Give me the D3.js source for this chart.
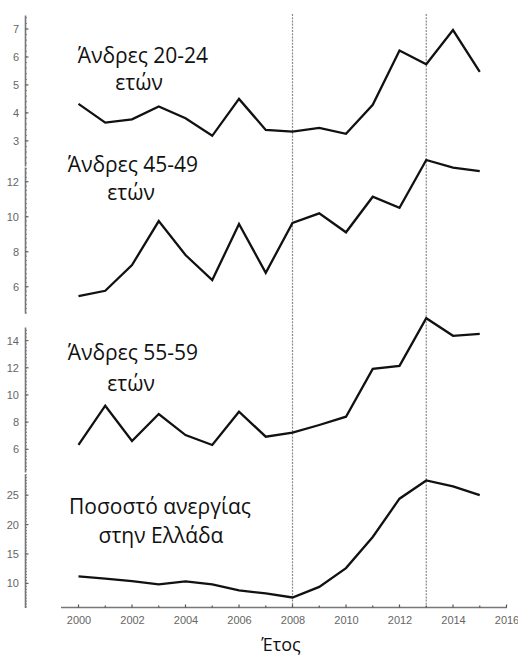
<!DOCTYPE html>
<html>
<head>
<meta charset="utf-8">
<script src="https://cdn.jsdelivr.net/npm/d3@7"></script>
<style>
  html, body { margin: 0; padding: 0; background: #fff; }
  svg { display: block; }
  .tick text { font-family: "Liberation Sans", Arial, sans-serif; font-size: 11px; fill: #666; }
  .panel-label { font-family: "Open Sans", sans-serif; font-size: 21px; fill: #111; }
</style>
</head>
<body>
<svg id="chart" width="518" height="659"></svg>
<script>
// Years on the shared x axis
const years = [2000, 2001, 2002, 2003, 2004, 2005, 2006, 2007,
               2008, 2009, 2010, 2011, 2012, 2013, 2014, 2015];

// Unemployment rate (%) per group
const men2024 = [4.32, 3.65, 3.77, 4.23, 3.81, 3.18, 4.5, 3.39,
                 3.33, 3.46, 3.25, 4.29, 6.23, 5.74, 6.96, 5.47];
const men4549 = [5.47, 5.77, 7.24, 9.75, 7.81, 6.38, 9.58, 6.8,
                 9.64, 10.19, 9.11, 11.14, 10.51, 13.24, 12.8, 12.61];
const men5559 = [6.32, 9.21, 6.61, 8.6, 7.05, 6.32, 8.77, 6.93,
                 7.22, 7.79, 8.4, 11.92, 12.14, 15.65, 14.35, 14.5];
const greece  = [11.2, 10.8, 10.4, 9.83, 10.34, 9.83, 8.8, 8.3,
                 7.6, 9.4, 12.6, 17.9, 24.4, 27.5, 26.5, 25.0];

// Panel titles (two lines each)
const labels = [
  ["Άνδρες 20-24", "ετών"],
  ["Άνδρες 45-49", "ετών"],
  ["Άνδρες 55-59", "ετών"],
  ["Ποσοστό ανεργίας", "στην Ελλάδα"]
];

// Y tick values per panel
const ticks1 = [3, 4, 5, 6, 7];
const ticks2 = [6, 8, 10, 12];
const ticks3 = [6, 8, 10, 12, 14];
const ticks4 = [10, 15, 20, 25];

// X tick values and marker years
const xTicks = [2000, 2002, 2004, 2006, 2008, 2010, 2012, 2014, 2016];
const markerYears = [2008, 2013];
const xTitle = "Έτος";

const svg = d3.select("#chart");

const x = d3.scaleLinear().domain([2000, 2016]).range([78.5, 506.5]);
const axisX = 25;

const panels = [
  { values: men2024, ticks: ticks1, domain: [2.1, 7.5],   range: [166, 15],  minor: 0.2,
    label: labels[0], lx: [143, 139], ly: [63, 90] },
  { values: men4549, ticks: ticks2, domain: [4.5, 12.84], range: [313, 167], minor: 0.25,
    label: labels[1], lx: [133, 131], ly: [172, 200] },
  { values: men5559, ticks: ticks3, domain: [4.33, 15.0], range: [472, 327], minor: 0.25,
    label: labels[2], lx: [133, 131], ly: [360, 391] },
  { values: greece,  ticks: ticks4, domain: [5.9, 28.6],  range: [607.5, 474], minor: 0.5,
    label: labels[3], lx: [160, 161], ly: [514, 543] }
];

// Vertical dashed reference lines
svg.append("g").selectAll("line")
  .data(markerYears)
  .join("line")
  .attr("x1", d => x(d)).attr("x2", d => x(d))
  .attr("y1", 14).attr("y2", 607.5)
  .attr("stroke", "#888")
  .attr("stroke-width", 1.2)
  .attr("stroke-dasharray", "2,1.2");

panels.forEach(p => {
  const y = d3.scaleLinear().domain(p.domain).range(p.range);
  const g = svg.append("g");

  // minor ticks along the y axis
  const minors = d3.range(Math.ceil(p.domain[0] / p.minor) * p.minor, p.domain[1], p.minor);
  g.append("g").selectAll("line")
    .data(minors)
    .join("line")
    .attr("x1", axisX).attr("x2", axisX + 2)
    .attr("y1", d => y(d)).attr("y2", d => y(d))
    .attr("stroke", "#888").attr("stroke-width", 1);

  // major y axis
  const ax = g.append("g")
    .attr("transform", `translate(${axisX},0)`)
    .call(d3.axisLeft(y).tickValues(p.ticks).tickFormat(d3.format("d"))
      .tickSize(0).tickPadding(6).tickSizeOuter(0));
  ax.select(".domain").attr("stroke", "#777").attr("stroke-width", 1.6);
  ax.selectAll(".tick line").remove();
  g.append("g").selectAll("line")
    .data(p.ticks)
    .join("line")
    .attr("x1", axisX).attr("x2", axisX + 3.5)
    .attr("y1", d => y(d)).attr("y2", d => y(d))
    .attr("stroke", "#666").attr("stroke-width", 1.2);

  // series line
  const line = d3.line()
    .x((d, i) => x(years[i]))
    .y(d => y(d));
  g.append("path")
    .datum(p.values)
    .attr("d", line)
    .attr("fill", "none")
    .attr("stroke", "#111")
    .attr("stroke-width", 2.3)
    .attr("stroke-linejoin", "miter");

  // panel title
  p.label.forEach((t, i) => {
    g.append("text")
      .attr("class", "panel-label")
      .attr("x", p.lx[i]).attr("y", p.ly[i])
      .attr("text-anchor", "middle")
      .text(t);
  });
});

// X axis
const xAxisY = 607.5;
svg.append("line")
  .attr("x1", 61).attr("x2", 507)
  .attr("y1", xAxisY).attr("y2", xAxisY)
  .attr("stroke", "#777").attr("stroke-width", 1.6);

svg.append("g").selectAll("line")
  .data(d3.range(2000, 2017))
  .join("line")
  .attr("x1", d => x(d)).attr("x2", d => x(d))
  .attr("y1", xAxisY).attr("y2", d => xAxisY - (d % 2 === 0 ? 3 : 2))
  .attr("stroke", "#555").attr("stroke-width", 1.2);

const xa = svg.append("g")
  .attr("transform", `translate(0,${xAxisY})`)
  .call(d3.axisBottom(x).tickValues(xTicks).tickFormat(d3.format("d")).tickSize(0).tickPadding(9));
xa.select(".domain").remove();

svg.append("text")
  .attr("x", 281).attr("y", 651)
  .attr("text-anchor", "middle")
  .attr("font-family", "Open Sans, sans-serif")
  .attr("font-size", 18)
  .attr("fill", "#111")
  .text(xTitle);
</script>
</body>
</html>
